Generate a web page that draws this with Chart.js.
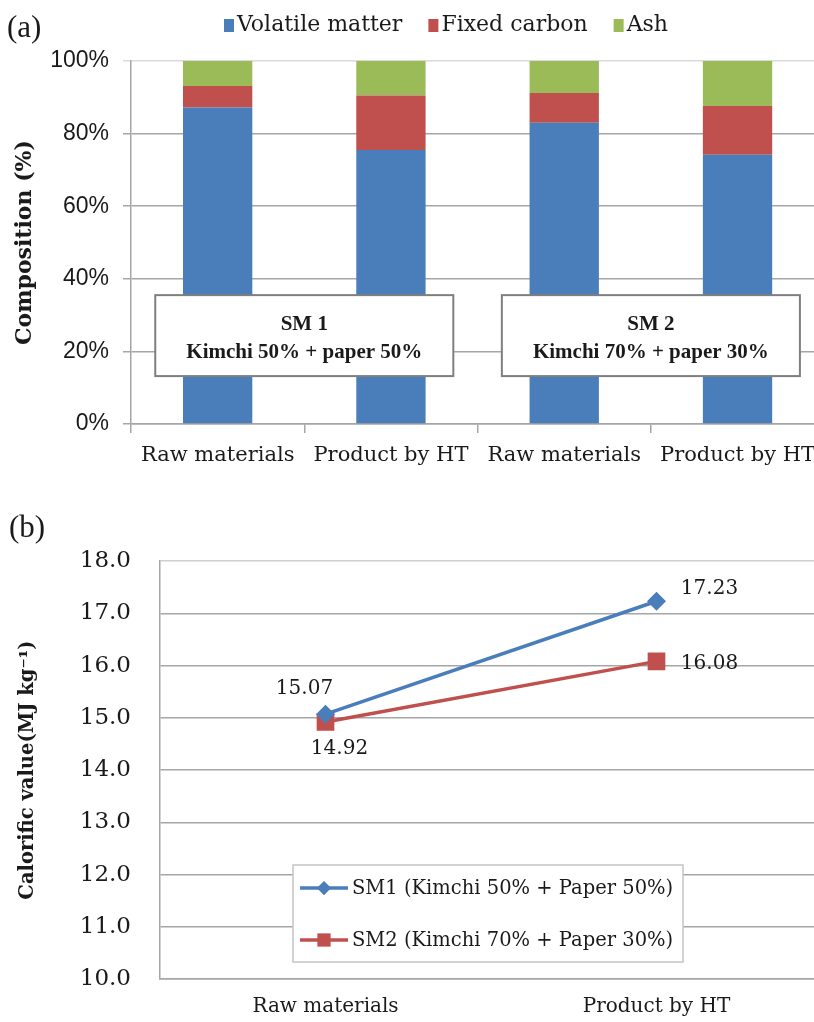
<!DOCTYPE html>
<html>
<head>
<meta charset="utf-8">
<script src="https://cdn.jsdelivr.net/npm/chart.js@4.4.1/dist/chart.umd.min.js"></script>
<style>
    html, body { margin: 0; padding: 0; background: #fff; overflow: hidden; }
    #wrapA { position: absolute; left: 0; top: 0; width: 825px; height: 480px; }
    #wrapB { position: absolute; left: 0; top: 490px; width: 822px; height: 532px; }
</style>
</head>
<body>
<div id="wrapA"><canvas id="barChart"></canvas></div>
<div id="wrapB"><canvas id="lineChart"></canvas></div>
<script>
// (a) composition
const barLabels = ['Raw materials', 'Product by HT', 'Raw materials', 'Product by HT'];
const volatileMatter = [87.2, 75.5, 83.0, 74.2];
const fixedCarbon = [5.9, 15.0, 8.2, 13.4];
const ashValues = [6.9, 9.5, 8.8, 12.4];
const sampleBoxes = [['SM 1', 'Kimchi 50% + paper 50%'], ['SM 2', 'Kimchi 70% + paper 30%']];

// (b) calorific value
const lineLabels = ['Raw materials', 'Product by HT'];
const sm1Values = [15.07, 17.23];
const sm2Values = [14.92, 16.08];
const sm1Name = 'SM1 (Kimchi 50% + Paper 50%)';
const sm2Name = 'SM2 (Kimchi 70% + Paper 30%)';

const BLUE = '#4a7ebb';
const RED = '#c0504d';
const GREEN = '#9bbb59';
const GRID = '#a6a6a6';
const TXT = '#1a1a1a';
const SERIF = "'DejaVu Serif', serif";

Chart.defaults.color = TXT;
Chart.defaults.animation = false;

const panelA = {
    id: 'panelA',
    afterDraw(chart) {
        const ctx = chart.ctx;
        const x = chart.scales.x;
        const y = chart.scales.y;
        ctx.save();
        // panel letter
        ctx.fillStyle = TXT;
        ctx.font = "31px 'Liberation Serif'";
        ctx.textBaseline = 'middle';
        ctx.textAlign = 'left';
        ctx.fillText('(a)', 7, 29);

        // legend
        ctx.font = '22px ' + SERIF;
        let lx = 224;
        chart.data.datasets.forEach(ds => {
            ctx.fillStyle = ds.backgroundColor;
            ctx.fillRect(lx, 19, 10, 13);
            ctx.fillStyle = TXT;
            ctx.fillText(ds.label, lx + 13, 25);
            lx += 13 + ctx.measureText(ds.label).width + 26;
        });

        // sample boxes
        const step = x.getPixelForValue(1) - x.getPixelForValue(0);
        sampleBoxes.forEach((lines, i) => {
            const left = x.getPixelForValue(i * 2) - 0.36 * step;
            const right = x.getPixelForValue(i * 2 + 1) + 0.36 * step;
            const top = y.getPixelForValue(35.5);
            const bottom = y.getPixelForValue(13.2);
            ctx.fillStyle = '#fff';
            ctx.fillRect(left, top, right - left, bottom - top);
            ctx.strokeStyle = '#7f7f7f';
            ctx.lineWidth = 2;
            ctx.strokeRect(left, top, right - left, bottom - top);
            ctx.fillStyle = TXT;
            ctx.textAlign = 'center';
            ctx.font = "bold 21px 'Liberation Serif'";
            const cx = (left + right) / 2;
            ctx.fillText(lines[0], cx, top + 29);
            ctx.fillText(lines[1], cx, top + 57);
        });
        ctx.restore();
    }
};

new Chart(document.getElementById('barChart'), {
    type: 'bar',
    data: {
        labels: barLabels,
        datasets: [
            { label: 'Volatile matter', data: volatileMatter, backgroundColor: BLUE },
            { label: 'Fixed carbon', data: fixedCarbon, backgroundColor: RED },
            { label: 'Ash', data: ashValues, backgroundColor: GREEN }
        ]
    },
    options: {
        responsive: true,
        maintainAspectRatio: false,
        layout: { padding: { top: 61, right: 0, left: 0, bottom: 0 }, autoPadding: false },
        datasets: { bar: { barPercentage: 0.4, categoryPercentage: 1 } },
        plugins: { legend: { display: false }, tooltip: { enabled: false } },
        scales: {
            x: {
                stacked: true,
                afterFit(scale) { scale.height = 56; },
                grid: { display: true, drawOnChartArea: false, drawTicks: true, tickLength: 9, color: GRID, lineWidth: 1.5 },
                border: { display: true, color: GRID, width: 1.5 },
                ticks: { font: { family: SERIF, size: 21 }, padding: 10, maxRotation: 0, autoSkip: false }
            },
            y: {
                stacked: true,
                min: 0,
                max: 100,
                afterFit(scale) { scale.width = 131; },
                grid: {
                    color: ctx => ctx.tick && ctx.tick.value === 100 ? '#dadada' : GRID,
                    lineWidth: 1.5,
                    tickLength: 8
                },
                border: { display: true, color: GRID, width: 1.5 },
                ticks: {
                    stepSize: 20,
                    padding: 14,
                    font: { family: "'Liberation Sans', Arial, sans-serif", size: 23 },
                    callback: v => v + '%'
                },
                title: {
                    display: true,
                    text: 'Composition (%)',
                    font: { family: SERIF, size: 22, weight: 'bold' },
                    padding: { top: 12, bottom: 0 }
                }
            }
        }
    },
    plugins: [panelA]
});

const panelB = {
    id: 'panelB',
    afterDraw(chart) {
        const ctx = chart.ctx;
        ctx.save();
        ctx.fillStyle = TXT;
        ctx.font = "31px 'Liberation Serif'";
        ctx.textBaseline = 'middle';
        ctx.textAlign = 'left';
        ctx.fillText('(b)', 9, 39);

        // value labels
        const offsets = [
            [[-21, -25], [53, -12]],
            [[14, 27], [53, 2]]
        ];
        ctx.font = '20px ' + SERIF;
        ctx.textAlign = 'center';
        chart.data.datasets.forEach((ds, di) => {
            chart.getDatasetMeta(di).data.forEach((pt, i) => {
                ctx.fillText(ds.data[i].toFixed(2), pt.x + offsets[di][i][0], pt.y + offsets[di][i][1]);
            });
        });

        // legend box
        const bx = 293, by = 375, bw = 390, bh = 97;
        ctx.fillStyle = '#fff';
        ctx.fillRect(bx, by, bw, bh);
        ctx.strokeStyle = '#c4c4c4';
        ctx.lineWidth = 1.5;
        ctx.strokeRect(bx, by, bw, bh);
        ctx.font = '19.5px ' + SERIF;
        chart.data.datasets.forEach((ds, di) => {
            const ry = by + 23 + di * 52;
            ctx.strokeStyle = ds.borderColor;
            ctx.lineWidth = 3.5;
            ctx.beginPath();
            ctx.moveTo(bx + 7, ry);
            ctx.lineTo(bx + 55, ry);
            ctx.stroke();
            ctx.fillStyle = ds.borderColor;
            Chart.helpers.drawPoint(ctx, { pointStyle: ds.pointStyle, radius: ds.pointRadius * 0.75, borderWidth: 0 }, bx + 31, ry);
            ctx.fillStyle = TXT;
            ctx.textAlign = 'left';
            ctx.fillText(ds.label, bx + 59, ry + 1);
        });
        ctx.restore();
    }
};

new Chart(document.getElementById('lineChart'), {
    type: 'line',
    data: {
        labels: lineLabels,
        datasets: [
            {
                label: sm1Name, data: sm1Values, borderColor: BLUE, backgroundColor: BLUE,
                borderWidth: 3.5, pointStyle: 'rectRot', pointRadius: 9.5, pointBorderWidth: 0
            },
            {
                label: sm2Name, data: sm2Values, borderColor: RED, backgroundColor: RED,
                borderWidth: 3.5, pointStyle: 'rect', pointRadius: 12.5, pointBorderWidth: 0
            }
        ]
    },
    options: {
        responsive: true,
        maintainAspectRatio: false,
        layout: { padding: { top: 71, right: 0, left: 0, bottom: 0 }, autoPadding: false },
        plugins: { legend: { display: false }, tooltip: { enabled: false } },
        scales: {
            x: {
                offset: true,
                afterFit(scale) { scale.height = 40; },
                grid: { display: false },
                border: { display: true, color: GRID, width: 1.5 },
                ticks: { font: { family: SERIF, size: 20 }, padding: 8, maxRotation: 0 }
            },
            y: {
                min: 10,
                max: 18,
                afterFit(scale) { scale.width = 160; },
                grid: {
                    color: ctx => ctx.tick && ctx.tick.value === 18 ? '#cfcfcf' : GRID,
                    lineWidth: 1.5,
                    drawTicks: false
                },
                border: { display: true, color: GRID, width: 1.5 },
                ticks: {
                    stepSize: 1,
                    padding: 29,
                    font: { family: SERIF, size: 23 },
                    callback: v => v.toFixed(1)
                },
                title: {
                    display: true,
                    text: 'Calorific value(MJ kg\u207B\u00B9)',
                    font: { family: SERIF, size: 19.5, weight: 'bold' },
                    padding: { top: 16, bottom: 0 }
                }
            }
        }
    },
    plugins: [panelB]
});
</script>
</body>
</html>
